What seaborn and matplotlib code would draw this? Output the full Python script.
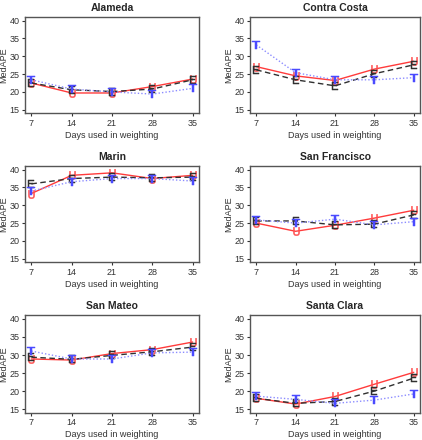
import matplotlib
matplotlib.use("Agg")
import matplotlib.pyplot as plt
import numpy as np
import pandas as pd
import seaborn as sns

# --- data ---
days = [7, 14, 21, 28, 35]
counties = ["Alameda", "Contra Costa", "Marin", "San Francisco", "San Mateo", "Santa Clara"]

alameda_u = [22.5, 19.7, 19.7, 21.5, 23.6]
alameda_e = [22.5, 20.6, 20.1, 20.8, 23.4]
alameda_t = [23.4, 20.8, 20.0, 19.4, 21.0]

contra_u = [27.1, 24.5, 23.2, 26.4, 28.6]
contra_e = [26.2, 23.4, 21.7, 25.1, 27.6]
contra_t = [33.2, 25.4, 23.4, 23.4, 24.0]

marin_u = [33.3, 38.4, 39.1, 37.5, 38.4]
marin_e = [36.0, 37.5, 37.9, 37.7, 37.9]
marin_t = [34.0, 36.6, 37.5, 37.5, 36.8]

sf_u = [25.0, 22.7, 24.4, 26.4, 28.6]
sf_e = [25.6, 25.6, 24.5, 24.7, 27.3]
sf_t = [25.9, 25.0, 26.1, 24.5, 25.4]

mateo_u = [28.9, 28.6, 30.4, 31.5, 33.6]
mateo_e = [29.4, 28.8, 29.9, 30.9, 32.2]
mateo_t = [31.1, 28.9, 28.9, 30.6, 30.8]

clara_u = [18.0, 16.4, 18.5, 21.9, 25.2]
clara_e = [18.0, 16.6, 17.1, 20.0, 23.6]
clara_t = [18.6, 17.7, 16.6, 17.5, 19.2]

values = {
    "Alameda": (alameda_u, alameda_e, alameda_t),
    "Contra Costa": (contra_u, contra_e, contra_t),
    "Marin": (marin_u, marin_e, marin_t),
    "San Francisco": (sf_u, sf_e, sf_t),
    "San Mateo": (mateo_u, mateo_e, mateo_t),
    "Santa Clara": (clara_u, clara_e, clara_t),
}

# series style: letter, line colour, letter colour, linestyle, width
series = [
    ("U", "#ff3b3b", "#ff5050", "-", 1.0),
    ("E", "#303030", "#303030", (0, (4, 2.5)), 1.0),
    ("T", "#8c8cff", "#4a4aff", (0, (1, 1.5)), 1.0),
]

sns.set_style("white")
plt.rcParams["font.family"] = ["Liberation Sans", "DejaVu Sans"]

fig = plt.figure(figsize=(4.22, 4.40), dpi=100)
W, H = 422.0, 440.0
col_x = [(25, 199), (250, 420)]
row_y = [(16.7, 113.3), (165.7, 262.3), (315, 412.7)]

for i, county in enumerate(counties):
    r, c = divmod(i, 2)
    x0, x1 = col_x[c]
    y0, y1 = row_y[r]
    ax = fig.add_axes([x0 / W, 1 - y1 / H, (x1 - x0) / W, (y1 - y0) / H])
    for (letter, lc, mc, ls, lw), vals in zip(series, values[county]):
        df = pd.DataFrame({"day": days, "val": vals})
        sns.lineplot(data=df, x="day", y="val", ax=ax, color=lc, linestyle=ls,
                     linewidth=lw, marker=r"$\mathsf{%s}$" % letter, markersize=6,
                     markerfacecolor=mc, markeredgecolor=mc, markeredgewidth=0.35)
    ax.set_xlim(5.9, 36.1)
    ax.set_ylim(14, 41.1)
    ax.set_xticks(days)
    ax.set_yticks([15, 20, 25, 30, 35, 40])
    ax.set_title(county, fontsize=7.5, fontweight="bold", pad=4)
    ax.set_xlabel("Days used in weighting", fontsize=6.5, labelpad=2, color="#333333")
    ax.set_ylabel("MedAPE", fontsize=6.5, labelpad=1, color="#333333")
    ax.tick_params(axis="both", labelsize=6.5, length=2.5, width=0.8,
                   direction="out", pad=1.5, colors="#333333", bottom=True, left=True)
    for sp in ax.spines.values():
        sp.set_color("#555555")
        sp.set_linewidth(1.0)

fig.savefig("out.png", dpi=100)
